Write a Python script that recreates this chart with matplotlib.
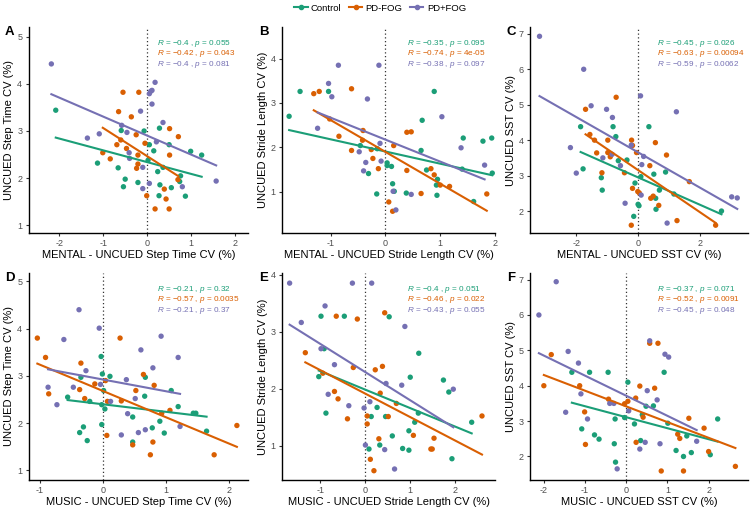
import matplotlib
matplotlib.use("Agg")
import matplotlib.pyplot as plt
from matplotlib.lines import Line2D
import numpy as np

plt.rcParams['font.family'] = ['Liberation Sans', 'DejaVu Sans']
plt.rcParams['mathtext.fontset'] = 'custom'
plt.rcParams['mathtext.rm'] = 'Liberation Sans'
plt.rcParams['mathtext.it'] = 'Liberation Sans:italic'
plt.rcParams['axes.unicode_minus'] = False

# group names and colours (Dark2)
groups = ['Control', 'PD-FOG', 'PD+FOG']
colors = ['#1B9E77', '#D95F02', '#7570B3']

# ---- panel A: MENTAL - UNCUED step time ----
a_control = [(-2.08, 3.44), (-1.13, 2.32), (-0.66, 2.22), (-0.50, 1.98), (-0.54, 1.82),
             (-0.59, 3.01), (-0.21, 1.91), (-0.07, 3.00), (0.05, 2.71), (0.15, 2.58),
             (0.02, 2.38), (0.24, 2.14), (0.28, 3.06), (0.36, 2.23), (0.29, 1.86),
             (0.27, 1.63), (0.50, 2.71), (0.55, 1.80), (0.76, 2.05), (0.74, 1.93),
             (0.87, 1.62), (0.99, 2.57), (1.24, 2.49)]
a_pdfog = [(-0.65, 3.41), (-0.55, 3.82), (-0.19, 3.82), (-0.36, 3.30), (-0.69, 2.71),
           (-0.60, 2.81), (-0.47, 2.63), (-0.25, 2.92), (-0.21, 2.49), (-0.21, 2.30),
           (-0.24, 2.21), (-0.05, 2.74), (-1.01, 2.54), (-0.84, 2.41), (-0.01, 1.63),
           (0.39, 1.77), (0.43, 1.56), (0.18, 1.35), (0.50, 1.35), (0.51, 3.05),
           (0.51, 2.49), (0.71, 2.88), (0.70, 1.97)]
a_pdpfog = [(-2.18, 4.42), (-1.36, 2.85), (-1.09, 2.94), (-0.58, 3.12), (-0.46, 2.97),
            (-0.41, 2.54), (-0.40, 2.42), (-0.15, 3.42), (-0.10, 2.23), (-0.10, 1.78),
            (0.05, 3.79), (0.08, 3.84), (0.11, 3.86), (0.18, 4.03), (0.11, 3.57),
            (0.21, 2.77), (0.36, 3.18), (0.05, 1.89), (0.80, 1.82), (1.57, 1.94)]
a_r = ['-0.4', '-0.42', '-0.4']
a_p = ['0.055', '0.043', '0.081']

# ---- panel B: MENTAL - UNCUED stride length ----
b_control = [(-1.76, 2.70), (-1.56, 3.26), (-1.04, 3.26), (-0.46, 2.04), (-0.31, 1.41),
             (-0.16, 0.95), (-0.15, 1.97), (0.03, 1.65), (0.03, 1.59), (0.11, 1.57),
             (0.13, 1.18), (0.16, 1.01), (0.38, 0.97), (0.65, 1.93), (0.75, 1.49),
             (0.67, 2.61), (0.93, 1.15), (0.94, 0.92), (0.95, 1.28), (0.89, 3.26),
             (1.40, 1.51), (1.42, 2.21), (1.78, 2.14), (1.94, 2.21), (1.95, 1.42),
             (1.61, 0.78)]
b_pdfog = [(-1.31, 3.21), (-1.21, 3.26), (-1.02, 2.64), (-0.85, 2.25), (-0.62, 1.93),
           (-0.62, 3.32), (-0.42, 2.16), (-0.41, 2.38), (-0.26, 1.95), (-0.23, 1.75),
           (-0.13, 1.52), (0.15, 2.04), (0.06, 0.77), (0.13, 0.56), (0.39, 2.34),
           (0.47, 2.35), (0.39, 1.48), (0.65, 0.96), (0.83, 1.52), (0.89, 1.38),
           (1.00, 1.15), (1.17, 1.12), (1.85, 0.95)]
b_pdpfog = [(-1.24, 2.43), (-1.04, 3.44), (-0.98, 3.14), (-0.86, 3.85), (-0.33, 3.09),
            (-0.12, 3.85), (-0.48, 1.90), (-0.36, 1.66), (-0.40, 1.47), (-0.10, 2.09),
            (-0.08, 1.69), (0.14, 1.01), (0.19, 0.59), (0.47, 0.94), (1.03, 2.69),
            (1.38, 1.99), (1.81, 1.60)]
b_r = ['-0.35', '-0.74', '-0.38']
b_p = ['0.095', '4e-05', '0.097']

# ---- panel C: MENTAL - UNCUED SST ----
c_control = [(-1.86, 4.38), (-1.78, 3.19), (-1.19, 2.94), (-1.16, 2.59), (-0.81, 4.38),
             (-0.72, 4.10), (-0.64, 3.42), (-0.36, 3.44), (-0.10, 2.79), (-0.14, 1.85),
             (0.00, 2.19), (0.03, 2.15), (0.09, 2.97), (0.35, 4.38), (0.51, 3.04),
             (0.57, 2.36), (0.58, 2.05), (0.69, 2.59), (0.89, 3.10), (1.16, 2.48),
             (2.70, 2.00)]
c_pdfog = [(-0.71, 5.21), (-1.70, 4.87), (-1.56, 4.16), (-1.41, 4.00), (-1.34, 3.64),
           (-0.98, 4.00), (-0.98, 3.65), (-0.90, 3.53), (-1.17, 3.08), (-0.44, 3.08),
           (-0.21, 4.00), (-0.18, 3.85), (-0.05, 3.65), (-0.01, 2.55), (0.04, 2.51),
           (-0.18, 2.64), (-0.22, 1.60), (0.38, 3.28), (0.56, 3.93), (0.92, 3.58),
           (0.41, 2.36), (0.49, 2.42), (0.67, 2.16), (1.26, 1.73), (1.66, 2.83),
           (2.51, 1.60)]
c_pdpfog = [(-3.19, 6.93), (-1.76, 6.00), (-1.52, 4.97), (-1.02, 4.87), (-0.83, 4.64),
            (-2.19, 3.79), (-2.00, 3.07), (-0.84, 3.60), (-1.14, 3.50), (-0.22, 3.86),
            (0.08, 5.25), (0.18, 3.54), (0.12, 3.31), (0.10, 2.45), (-0.42, 2.22),
            (1.24, 4.80), (0.94, 1.66), (3.03, 2.40), (3.21, 2.37), (-0.57, 3.28)]
c_r = ['-0.45', '-0.63', '-0.59']
c_p = ['0.026', '0.00094', '0.0062']

# ---- panel D: MUSIC - UNCUED step time ----
d_control = [(-0.56, 2.55), (-0.37, 1.80), (-0.31, 1.92), (-0.25, 1.63), (-0.35, 2.97),
             (-0.21, 2.46), (-0.03, 3.41), (-0.01, 3.04), (0.01, 2.69), (-0.02, 2.39),
             (-0.02, 1.97), (0.03, 2.30), (0.11, 2.99), (0.47, 2.13), (0.47, 1.60),
             (0.67, 2.97), (0.66, 2.57), (0.78, 1.90), (0.90, 2.04), (0.97, 1.79),
             (1.08, 2.69), (1.19, 2.35), (1.43, 2.21), (1.47, 2.21), (1.64, 1.83)]
d_pdfog = [(-1.04, 3.80), (-0.91, 3.39), (-0.86, 2.62), (-0.35, 3.27), (-0.37, 2.71),
           (-0.29, 2.52), (-0.13, 2.83), (0.04, 2.90), (0.07, 2.46), (0.06, 1.74),
           (0.27, 3.80), (0.29, 2.47), (0.52, 2.69), (0.64, 3.03), (0.81, 2.80),
           (0.47, 1.54), (0.79, 1.60), (0.75, 1.33), (0.93, 2.21), (1.06, 2.27),
           (1.76, 1.33), (2.12, 1.95)]
d_pdpfog = [(-0.38, 4.40), (-0.62, 3.77), (-0.06, 4.01), (-0.87, 2.76), (-0.73, 2.39),
            (-0.47, 2.76), (-0.27, 3.11), (-0.04, 2.82), (0.12, 2.46), (0.37, 2.92),
            (0.39, 2.20), (0.29, 1.75), (0.51, 2.52), (0.56, 1.80), (0.60, 3.55),
            (0.67, 1.86), (0.79, 3.17), (0.92, 3.84), (1.19, 3.39), (1.22, 1.93)]
d_r = ['-0.21', '-0.57', '-0.21']
d_p = ['0.32', '0.0035', '0.37']

# ---- panel E: MUSIC - UNCUED stride length ----
e_control = [(-0.98, 3.27), (-0.46, 3.27), (-0.91, 2.70), (-1.03, 2.21), (-0.87, 1.57),
             (0.14, 1.51), (0.09, 0.94), (0.27, 1.67), (0.33, 1.01), (0.46, 1.51),
             (0.54, 3.26), (0.61, 1.17), (0.84, 0.95), (0.98, 0.92), (0.98, 1.26),
             (1.01, 2.20), (1.11, 1.41), (1.20, 2.62), (1.19, 1.57), (1.75, 2.15),
             (1.87, 1.94), (1.94, 0.77), (2.38, 1.41)]
e_pdfog = [(-1.33, 2.63), (-0.94, 2.27), (-0.64, 3.27), (-0.68, 1.95), (-0.60, 1.82),
           (-0.39, 1.47), (-0.17, 3.22), (-0.26, 2.37), (0.05, 1.52), (0.05, 1.38),
           (0.12, 0.76), (0.20, 0.56), (0.23, 2.33), (0.34, 1.92), (0.31, 1.12),
           (0.39, 2.39), (0.44, 3.33), (0.52, 1.51), (0.70, 1.74), (1.08, 1.18),
           (1.47, 0.94), (1.50, 0.94), (1.54, 1.13), (2.61, 1.52)]
e_pdpfog = [(-1.68, 3.85), (-1.42, 3.16), (-0.89, 3.45), (-0.28, 3.85), (0.15, 3.85),
            (-0.98, 2.70), (-0.68, 2.42), (-0.82, 1.90), (-0.36, 1.70), (-0.02, 1.66),
            (0.01, 1.01), (0.11, 1.77), (0.47, 2.09), (0.44, 0.93), (0.66, 0.59),
            (0.89, 3.09), (0.82, 2.06), (1.97, 1.99)]
e_r = ['-0.4', '-0.46', '-0.43']
e_p = ['0.051', '0.022', '0.055']

# ---- panel F: MUSIC - UNCUED SST ----
f_control = [(-1.32, 4.38), (-0.89, 4.38), (-1.08, 2.78), (-0.77, 2.61), (-0.66, 2.49),
             (-0.44, 4.38), (-0.27, 3.06), (-0.29, 2.36), (-0.26, 1.84), (-0.04, 3.10),
             (0.04, 4.10), (0.20, 2.92), (0.35, 2.45), (0.39, 3.18), (0.48, 3.42),
             (0.66, 3.43), (0.92, 4.38), (1.01, 2.94), (1.21, 2.17), (1.47, 2.58),
             (1.58, 2.11), (1.39, 2.00), (2.04, 2.05), (2.22, 3.06)]
f_pdfog = [(-1.82, 4.88), (-2.00, 4.00), (-1.13, 4.00), (-1.01, 3.26), (-0.99, 2.34),
           (-0.43, 3.62), (-0.04, 3.49), (0.04, 3.56), (0.23, 3.65), (0.33, 3.99),
           (0.41, 3.11), (0.57, 5.20), (0.77, 5.20), (0.69, 3.93), (0.24, 2.40),
           (0.85, 1.59), (1.25, 2.63), (1.30, 2.51), (1.52, 3.08), (1.39, 1.59),
           (1.89, 2.80), (2.00, 2.14), (2.65, 1.72)]
f_pdpfog = [(-1.70, 6.94), (-2.12, 6.00), (-1.41, 4.97), (-1.16, 4.64), (-1.10, 3.77),
            (-1.47, 3.25), (-0.94, 3.06), (-0.40, 3.50), (-0.30, 3.50), (0.06, 3.29),
            (-0.22, 1.65), (0.33, 2.21), (0.46, 2.40), (0.51, 3.86), (0.57, 5.27),
            (0.75, 3.60), (0.94, 4.89), (1.03, 4.81), (0.82, 2.36), (1.71, 2.43)]
f_r = ['-0.37', '-0.52', '-0.45']
f_p = ['0.071', '0.0091', '0.048']

panel_letters = ['A', 'B', 'C', 'D', 'E', 'F']
x_labels = ['MENTAL - UNCUED Step Time CV (%)', 'MENTAL - UNCUED Stride Length CV (%)',
            'MENTAL - UNCUED SST CV (%)', 'MUSIC - UNCUED Step Time CV (%)',
            'MUSIC - UNCUED Stride Length CV (%)', 'MUSIC - UNCUED SST CV (%)']
y_labels = ['UNCUED Step Time CV (%)', 'UNCUED Stride Length CV (%)', 'UNCUED SST CV (%)',
            'UNCUED Step Time CV (%)', 'UNCUED Stride Length CV (%)', 'UNCUED SST CV (%)']
x_ticks = [[-2, -1, 0, 1, 2], [-1, 0, 1, 2], [-2, 0, 2],
           [-1, 0, 1, 2], [-1, 0, 1, 2], [-2, -1, 0, 1, 2]]
y_ticks = [[1, 2, 3, 4, 5], [1, 2, 3, 4], [2, 3, 4, 5, 6, 7],
           [1, 2, 3, 4, 5], [1, 2, 3, 4], [2, 3, 4, 5, 6, 7]]
x_lims = [(-2.7, 2.3), (-1.89, 2.0), (-3.49, 3.55), (-1.18, 2.3), (-1.85, 2.9), (-2.33, 2.95)]
y_lims = [(0.84, 5.2), (0.07, 4.71), (1.38, 7.19), (0.80, 5.18), (0.40, 4.03), (1.34, 7.19)]

panel_data = [(a_control, a_pdfog, a_pdpfog), (b_control, b_pdfog, b_pdpfog),
              (c_control, c_pdfog, c_pdpfog), (d_control, d_pdfog, d_pdpfog),
              (e_control, e_pdfog, e_pdpfog), (f_control, f_pdfog, f_pdpfog)]
panel_r = [a_r, b_r, c_r, d_r, e_r, f_r]
panel_p = [a_p, b_p, c_p, d_p, e_p, f_p]

fig = plt.figure(figsize=(7.5, 5.11), dpi=100)

# axes boxes [left, bottom, width, height] in figure fractions
col_lefts = [0.038, 0.376, 0.707]
col_widths = [0.293, 0.284, 0.290]
row_bottoms = [0.544, 0.061]
row_heights = [0.403, 0.405]

tick_color = '#4D4D4D'
for i in range(6):
    row, col = divmod(i, 3)
    ax = fig.add_axes([col_lefts[col], row_bottoms[row], col_widths[col], row_heights[row]])
    ax.axvline(0, color='#333333', linestyle=(0, (1, 2)), linewidth=0.9, zorder=1)

    for g, pts in enumerate(panel_data[i]):
        arr = np.array(pts)
        xs, ys = arr[:, 0], arr[:, 1]
        ax.scatter(xs, ys, s=15, color=colors[g], edgecolors='none', zorder=3)
        # least-squares line over the group's x range
        slope, intercept = np.polyfit(xs, ys, 1)
        line_x = np.array([xs.min(), xs.max()])
        ax.plot(line_x, slope * line_x + intercept, color=colors[g], linewidth=1.5, zorder=4)

        r_txt = panel_r[i][g].replace('-', '\u2212')
        ax.text(0.585, 0.922 - g * 0.051,
                f'$R$ = {r_txt} , $p$ = {panel_p[i][g]}',
                transform=ax.transAxes, fontsize=5.9, color=colors[g], va='center')

    ax.set_xlim(*x_lims[i])
    ax.set_ylim(*y_lims[i])
    ax.set_xticks(x_ticks[i])
    ax.set_yticks(y_ticks[i])
    ax.tick_params(labelsize=6.5, colors='#333333', labelcolor=tick_color,
                   length=2.5, width=0.8, pad=2)
    for side in ['top', 'right']:
        ax.spines[side].set_visible(False)
    for side in ['left', 'bottom']:
        ax.spines[side].set_linewidth(1.0)
    ax.set_xlabel(x_labels[i], fontsize=8, labelpad=1.5)
    ax.set_ylabel(y_labels[i], fontsize=8, labelpad=2)
    ax.text(-0.107, 1.005, panel_letters[i], transform=ax.transAxes, fontsize=9.5,
            fontweight='bold', va='top', ha='left')

handles = [Line2D([0], [0], color=c, marker='o', markersize=3, linewidth=1.5) for c in colors]
fig.legend(handles, groups, loc='center', bbox_to_anchor=(0.507, 0.984), ncol=3,
           frameon=False, fontsize=6.8, handlelength=1.4, columnspacing=0.8, handletextpad=0.35)

fig.savefig('out.png', dpi=100)
